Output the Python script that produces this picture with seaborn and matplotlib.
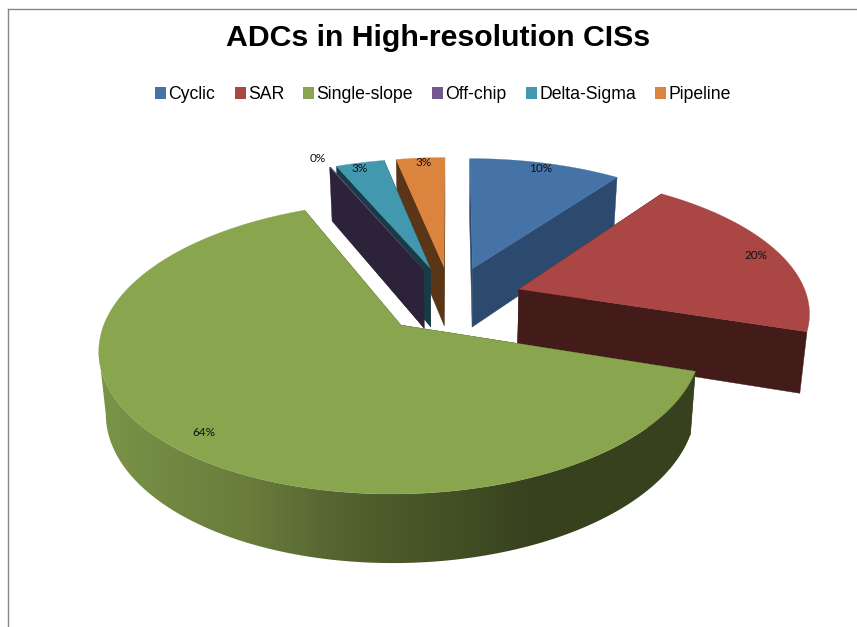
import numpy as np
import matplotlib
matplotlib.use("Agg")
import matplotlib.pyplot as plt
from matplotlib.colors import LinearSegmentedColormap
from matplotlib.patches import Patch, Polygon
import seaborn as sns

# Chart data
categories = ["Cyclic", "SAR", "Single-slope", "Off-chip", "Delta-Sigma", "Pipeline"]
shares = [10, 20, 63.6, 0.05, 3.2, 3.2]

# Slice colours: top faces and darker cut faces
top_colors = ["#4573A7", "#AA4644", "#89A54E", "#71588F", "#4198AF", "#DB843D"]
side_colors = ["#2C4A6E", "#431C1A", "#37411E", "#2C233A", "#173C45", "#5A3617"]
label_nudges = [(0, -2), (0, 2), (15, -1), (-19, -16), (-5, -2), (1, -3)]

# Shading along the curved rim, from its left end to its right end
rim_x = [95, 190, 250, 330, 400, 480, 535, 700]
rim_colors = ["#7A9548", "#6F8540", "#697C3C", "#566633", "#4B5829", "#3F4B22", "#37411E", "#37411E"]

# Projection of the tilted pie
CX, CY = 451.0, 299.5
SCALE_X, SCALE_Y, PERSPECTIVE = 289.0, 135.0, 0.15
EXPLODE = 0.25
DEPTH = 60.0
SHRINK = 0.98


def project(east, south):
    w = 1 - PERSPECTIVE * south
    return CX + SCALE_X * east / w, CY + SCALE_Y * south / w


def extrude(x, y):
    # Lower face: pulled slightly towards the centre, deeper nearer the viewer
    depth = DEPTH * (1 + PERSPECTIVE * (y - CY) / SCALE_Y)
    return CX + (x - CX) * SHRINK, y + (CY - y) * (1 - SHRINK) + depth


def on_slice(theta, radius, mid):
    east = EXPLODE * np.sin(mid) + radius * np.sin(theta)
    south = -EXPLODE * np.cos(mid) - radius * np.cos(theta)
    return project(east, south)


sns.set_theme(style="white", rc={"font.family": ["Liberation Sans", "DejaVu Sans"]})
palette = sns.color_palette(top_colors)
shade = sns.color_palette(side_colors)

fig = plt.figure(figsize=(8.57, 6.27), dpi=100)
ax = fig.add_axes([8 / 857, 0, 849 / 857, 618 / 627])
ax.set_xticks([])
ax.set_yticks([])
for side in ("right", "bottom"):
    ax.spines[side].set_visible(False)
for side in ("top", "left"):
    ax.spines[side].set_color("#868686")
    ax.spines[side].set_linewidth(1.0)

total = sum(shares)
edges = np.concatenate([[0], np.cumsum(shares)]) / total * 2 * np.pi
mids = (edges[:-1] + edges[1:]) / 2

span = (rim_x[0], rim_x[-1])
stops = [(x - span[0]) / (span[1] - span[0]) for x in rim_x]
rim_cmap = LinearSegmentedColormap.from_list("rim", list(zip(stops, rim_colors)))

# Far slices first so that nearer ones paint over them
order = sorted(range(len(shares)), key=lambda i: -EXPLODE * np.cos(mids[i]))
for layer, i in enumerate(order):
    start, stop, mid = edges[i], edges[i + 1], mids[i]
    apex = on_slice(0, 0, mid)
    thetas = np.linspace(start, stop, max(3, int(np.degrees(stop - start) * 2)))
    arc = [on_slice(t, 1, mid) for t in thetas]
    lower_arc = [extrude(*p) for p in arc]

    for end in (arc[0], arc[-1]):
        quad = [apex, end, extrude(*end), extrude(*apex)]
        ax.fill(*zip(*quad), color=shade[i], lw=0.3, zorder=2 + layer)

    # Only the rim up to the leftmost point faces the viewer
    last = int(np.argmin([p[0] for p in arc])) + 1
    band = arc[:last] + lower_arc[:last][::-1]
    if categories[i] == "Single-slope":
        gradient = np.linspace(0, 1, 512).reshape(1, -1)
        image = ax.imshow(gradient, cmap=rim_cmap, aspect="auto", extent=(span[0], span[1], 620, 300),
                          zorder=2 + layer, interpolation="bilinear")
        image.set_clip_path(Polygon(band, closed=True, transform=ax.transData))
    elif len(band) > 2:
        ax.fill(*zip(*band), color=shade[i], lw=0.3, zorder=2 + layer)

    ax.fill(*zip(*([apex] + arc)), color=palette[i], lw=0.2, zorder=2 + layer)

ax.set_xlim(8, 857)
ax.set_ylim(627, 9)
ax.set_aspect("auto")

# Percentage labels sit just inside the rim of each slice
for i, share in enumerate(shares):
    x, y = on_slice(mids[i], 0.92, mids[i])
    dx, dy = label_nudges[i]
    ax.text(x + dx, y + dy, f"{share / total * 100:.0f}%", ha="center", va="center",
            fontsize=8.5, family="Lato", color="#111111", zorder=20)

fig.text(438 / 857, 1 - 38 / 627, "ADCs in High-resolution CISs", ha="center", va="center",
         fontsize=21.8, fontweight="bold", color="black")

handles = [Patch(facecolor=c, edgecolor="none") for c in palette]
fig.legend(handles, categories, loc="center", bbox_to_anchor=(443 / 857, 1 - 94.5 / 627),
           ncol=6, frameon=False, fontsize=12.7, handlelength=0.62, handleheight=0.62,
           handletextpad=0.12, columnspacing=1.1, labelcolor="black")

fig.savefig("out.png", dpi=100, facecolor="white")
